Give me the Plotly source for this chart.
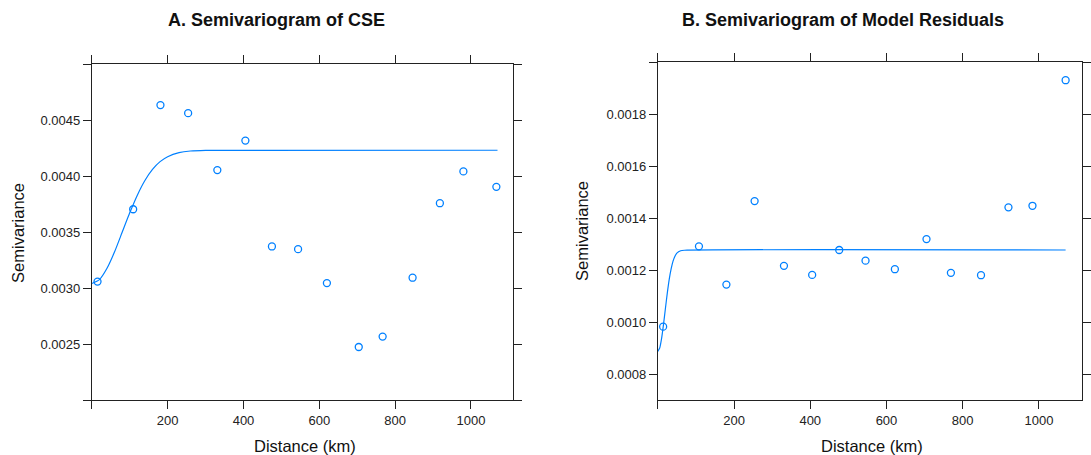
import plotly.graph_objects as go

W, H = 1091, 455

# ---------------- data ----------------
cse_dist = [15, 109, 181, 254, 331, 405, 475, 544, 620, 704, 767, 846, 918, 980, 1067]
cse_semivar = [0.003057, 0.003703, 0.004633, 0.004561, 0.004053, 0.004316, 0.003371,
               0.003347, 0.003044, 0.002473, 0.002566, 0.003092, 0.003757, 0.004041, 0.003903]
cse_fit_dist = [0, 20, 40, 60, 80, 100, 120, 140, 160, 180, 200, 230, 260, 300, 1070]
cse_fit_semivar = [0.003040, 0.003075, 0.003176, 0.003323, 0.003497, 0.003671, 0.003829,
                   0.003960, 0.004059, 0.004128, 0.004172, 0.004208, 0.004223, 0.004229, 0.004230]

res_dist = [14, 108, 180, 254, 331, 405, 476, 545, 622, 705, 769, 848, 920, 983, 1070]
res_semivar = [0.000982, 0.001291, 0.001144, 0.001465, 0.001216, 0.001181, 0.001277,
               0.001236, 0.001203, 0.001319, 0.001189, 0.001180, 0.001441, 0.001447, 0.001930]
res_fit_dist = [0, 5, 10, 15, 20, 25, 30, 35, 40, 45, 50, 60, 70, 1070]
res_fit_semivar = [0.000887, 0.000900, 0.000937, 0.000991, 0.001052, 0.001112, 0.001164,
                   0.001204, 0.001234, 0.001253, 0.001265, 0.001274, 0.001276, 0.001277]

x_ticks = [0, 200, 400, 600, 800, 1000]
x_ticktext = ["", "200", "400", "600", "800", "1000"]
cse_y_ticks = [0.0020, 0.0025, 0.0030, 0.0035, 0.0040, 0.0045, 0.0050]
cse_y_ticktext = ["", "0.0025", "0.0030", "0.0035", "0.0040", "0.0045", ""]
res_y_ticks = [0.0008, 0.0010, 0.0012, 0.0014, 0.0016, 0.0018, 0.0020]
res_y_ticktext = ["0.0008", "0.0010", "0.0012", "0.0014", "0.0016", "0.0018", ""]

titles = ["A. Semivariogram of CSE", "B. Semivariogram of Model Residuals"]
x_title = "Distance (km)"
y_title = "Semivariance"

# ---------------- styling ----------------
BLUE = "#0080ff"
AXC = "#222222"
FONT = "Liberation Sans, Arial, Helvetica, sans-serif"


def px_x(p):
    return p / W


def px_y(p):
    return 1 - p / H


fig = go.Figure()

fig.add_trace(go.Scatter(x=cse_fit_dist, y=cse_fit_semivar, mode="lines",
                         line=dict(color=BLUE, width=1.2, shape="spline", smoothing=0.6),
                         xaxis="x", yaxis="y", showlegend=False, hoverinfo="skip"))
fig.add_trace(go.Scatter(x=cse_dist, y=cse_semivar, mode="markers",
                         marker=dict(symbol="circle-open", size=7, color=BLUE, line=dict(width=1.3)),
                         xaxis="x", yaxis="y", showlegend=False))
fig.add_trace(go.Scatter(x=res_fit_dist, y=res_fit_semivar, mode="lines",
                         line=dict(color=BLUE, width=1.2, shape="spline", smoothing=0.6),
                         xaxis="x2", yaxis="y2", showlegend=False, hoverinfo="skip"))
fig.add_trace(go.Scatter(x=res_dist, y=res_semivar, mode="markers",
                         marker=dict(symbol="circle-open", size=7, color=BLUE, line=dict(width=1.3)),
                         xaxis="x2", yaxis="y2", showlegend=False))

axis_common = dict(showgrid=False, zeroline=False, showline=True, linecolor=AXC, linewidth=1,
                   mirror="ticks", ticks="outside", ticklen=8, tickwidth=1, tickcolor=AXC,
                   tickfont=dict(family=FONT, size=13, color="#222"), tickmode="array")

fig.update_layout(
    width=W, height=H, margin=dict(l=0, r=0, t=0, b=0),
    paper_bgcolor="white", plot_bgcolor="white",
    xaxis=dict(domain=[px_x(92), px_x(514)], range=[0, 1111], anchor="y",
               tickvals=x_ticks, ticktext=x_ticktext, **axis_common),
    yaxis=dict(domain=[px_y(400), px_y(64)], range=[0.0020, 0.0050], anchor="x",
               tickvals=cse_y_ticks, ticktext=cse_y_ticktext, **axis_common),
    xaxis2=dict(domain=[px_x(659), px_x(1084)], range=[0, 1113], anchor="y2",
                tickvals=x_ticks, ticktext=x_ticktext, **axis_common),
    yaxis2=dict(domain=[px_y(400), px_y(62)], range=[0.0007, 0.0020], anchor="x2",
                tickvals=res_y_ticks, ticktext=res_y_ticktext, **axis_common),
)

TXT = "#111"
ann = [
    dict(text="<b>" + titles[0] + "</b>", x=px_x(277), y=px_y(20), font=dict(family=FONT, size=18, color=TXT)),
    dict(text="<b>" + titles[1] + "</b>", x=px_x(845), y=px_y(20), font=dict(family=FONT, size=18, color=TXT)),
    dict(text=x_title, x=px_x(306), y=px_y(446), font=dict(family=FONT, size=16.5, color=TXT)),
    dict(text=x_title, x=px_x(874), y=px_y(446), font=dict(family=FONT, size=16.5, color=TXT)),
    dict(text=y_title, x=px_x(18), y=px_y(233), textangle=-90, font=dict(family=FONT, size=16.5, color=TXT)),
    dict(text=y_title, x=px_x(583), y=px_y(231), textangle=-90, font=dict(family=FONT, size=16.5, color=TXT)),
]
for a in ann:
    a.update(xref="paper", yref="paper", showarrow=False, xanchor="center", yanchor="middle")
fig.update_layout(annotations=ann)

fig.write_html("out.html")
